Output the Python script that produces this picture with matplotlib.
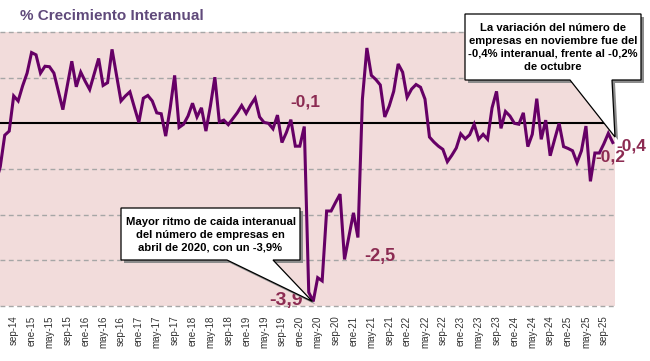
import numpy as np
import matplotlib
matplotlib.use('Agg')
import matplotlib.pyplot as plt
from matplotlib.patches import Polygon

plt.rcParams['font.family'] = ['Liberation Sans', 'DejaVu Sans']

# --- datos: crecimiento interanual (%) del numero de empresas, may-14 .. nov-25 ---
meses = ['ene', 'feb', 'mar', 'abr', 'may', 'jun', 'jul', 'ago', 'sep', 'oct', 'nov', 'dic']
crecimiento = [
    -1.30, -0.95, -0.26, -0.17,                                              # may-14 .. ago-14
    0.60, 0.49, 0.82, 1.10, 1.55, 1.50, 1.10, 1.25, 1.24, 1.10, 0.70, 0.30,  # sep-14 .. ago-15
    0.83, 1.36, 0.80, 1.12, 0.92, 0.74, 1.08, 1.42, 0.83, 0.89, 1.62, 1.05,  # sep-15 .. ago-16
    0.49, 0.60, 0.69, 0.35, 0.02, 0.55, 0.61, 0.49, 0.23, 0.21, -0.28, 0.33, # sep-16 .. ago-17
    1.05, -0.09, -0.02, 0.16, 0.44, 0.14, 0.34, -0.17, 0.38, 1.01, 0.03, 0.07,  # sep-17 .. ago-18
    -0.03, 0.10, 0.23, 0.39, 0.22, 0.40, 0.55, 0.14, 0.02, 0.00, -0.12, 0.18,   # sep-18 .. ago-19
    -0.42, -0.20, 0.08, -0.50, -0.50, -0.07, -3.70, -3.90, -3.38, -3.45, -1.92, -1.92,  # sep-19 .. ago-20
    -1.73, -1.55, -2.98, -2.47, -1.96, -2.50, 0.53, 1.65, 1.05, 0.96, 0.84, 0.14,      # sep-20 .. ago-21
    0.38, 0.70, 1.30, 1.12, 0.57, 0.75, 0.85, 0.79, 0.53, -0.30, -0.41, -0.50,  # sep-21 .. ago-22
    -0.57, -0.84, -0.70, -0.54, -0.23, -0.34, -0.25, -0.02, -0.35, -0.24, -0.35, 0.34,  # sep-22 .. ago-23
    0.70, -0.11, 0.26, 0.16, 0.00, -0.02, 0.23, -0.51, -0.24, 0.54, -0.35, 0.07,  # sep-23 .. ago-24
    -0.71, -0.35, 0.00, -0.51, -0.55, -0.60, -0.86, -0.60, -0.06, -1.27, -0.65, -0.65,  # sep-24 .. ago-25
    -0.45, -0.22, -0.42,                                                      # sep-25 .. nov-25
]

# etiquetas de dato: (indice, texto, posicion px del centro, tamano)
etiquetas = [
    (69, '-0,1', (305, 102), 12.5),
    (71, '-3,9', (286, 300), 14),
    (81, '-2,5', (380, 256), 13),
    (137, '-0,2', (610, 157), 12.5),
    (138, '-0,4', (631, 146), 12.5),
]

texto_nov = ('La variación del número de\nempresas en noviembre fue del\n'
             '-0,4% interanual, frente al -0,2%\nde octubre')
texto_abr = 'Mayor ritmo de caida interanual\ndel número de empresas en\nabril de 2020, con un -3,9%'

W, H = 650, 361
x = np.arange(len(crecimiento))
# etiqueta de cada mes (may-14 = indice 0)
cats = [f'{meses[(4 + i) % 12]}-{14 + (4 + i) // 12:02d}' for i in range(len(crecimiento))]

fig = plt.figure(figsize=(W / 100, H / 100), dpi=100)
ax = fig.add_axes([0, 1 - 306 / H, 615 / W, (306 - 32) / H])
ax.set_facecolor('#F2DCDB')

ax.plot(x, crecimiento, color='#660066', lw=2.2, zorder=4, solid_joinstyle='miter')

for yv in [2, 1, -1, -2, -3, -4]:
    ax.axhline(yv, color='#A6A6A6', lw=1.0, ls=(0, (3.5, 2.5)), zorder=1, clip_on=False)
ax.axhline(0, color='black', lw=1.5, zorder=3)

ax.set_ylim(-4, 2)
ax.set_xlim(0.94, 138.5)
ticks = list(range(4, len(crecimiento), 4))
ax.set_xticks(ticks)
ax.set_xticklabels([cats[i] for i in ticks], rotation=90, fontsize=7, color='#333333')
ax.tick_params(axis='x', length=0, pad=7)
ax.set_yticks([])
for s in ax.spines.values():
    s.set_visible(False)

fig.text(20 / W, 1 - 16 / H, '% Crecimiento Interanual', fontsize=11, fontweight='bold',
         color='#604A7B', va='center', ha='left')


def px(p):
    return (p[0] / W, 1 - p[1] / H)


for idx, txt, pos, fs in etiquetas:
    fig.text(*px(pos), txt, fontsize=fs, fontweight='bold', color='#8C2B52',
             ha='center', va='center', zorder=6)


def callout(caja, base, tip_data, texto, fs):
    x0, y0, x1, y1 = caja
    tip = ax.transData.transform(tip_data)
    tip = fig.transFigure.inverted().transform(tip)
    tip_px = (tip[0] * W, (1 - tip[1]) * H)
    pts = [(x0, y0), (x1, y0), (x1, y1), (base[1], y1), tip_px, (base[0], y1), (x0, y1)]
    sombra = [(p[0] + 3, p[1] + 3) for p in pts]
    fig.patches.append(Polygon([px(p) for p in sombra], closed=True, transform=fig.transFigure,
                               facecolor='#8C8C8C', edgecolor='none', zorder=7))
    fig.patches.append(Polygon([px(p) for p in pts], closed=True, transform=fig.transFigure,
                               facecolor='white', edgecolor='black', lw=0.9, zorder=8))
    fig.text(*px(((x0 + x1) / 2, (y0 + y1) / 2 + 0.5)), texto, fontsize=fs, fontweight='bold',
             ha='center', va='center', linespacing=1.35, zorder=9)


callout((465, 14, 641, 80), (570, 612), (138.5, -0.3), texto_nov, 8.1)
callout((121, 208, 300, 260), (227, 273), (70.8, -3.9), texto_abr, 8.1)

fig.savefig('out.png', dpi=100)
